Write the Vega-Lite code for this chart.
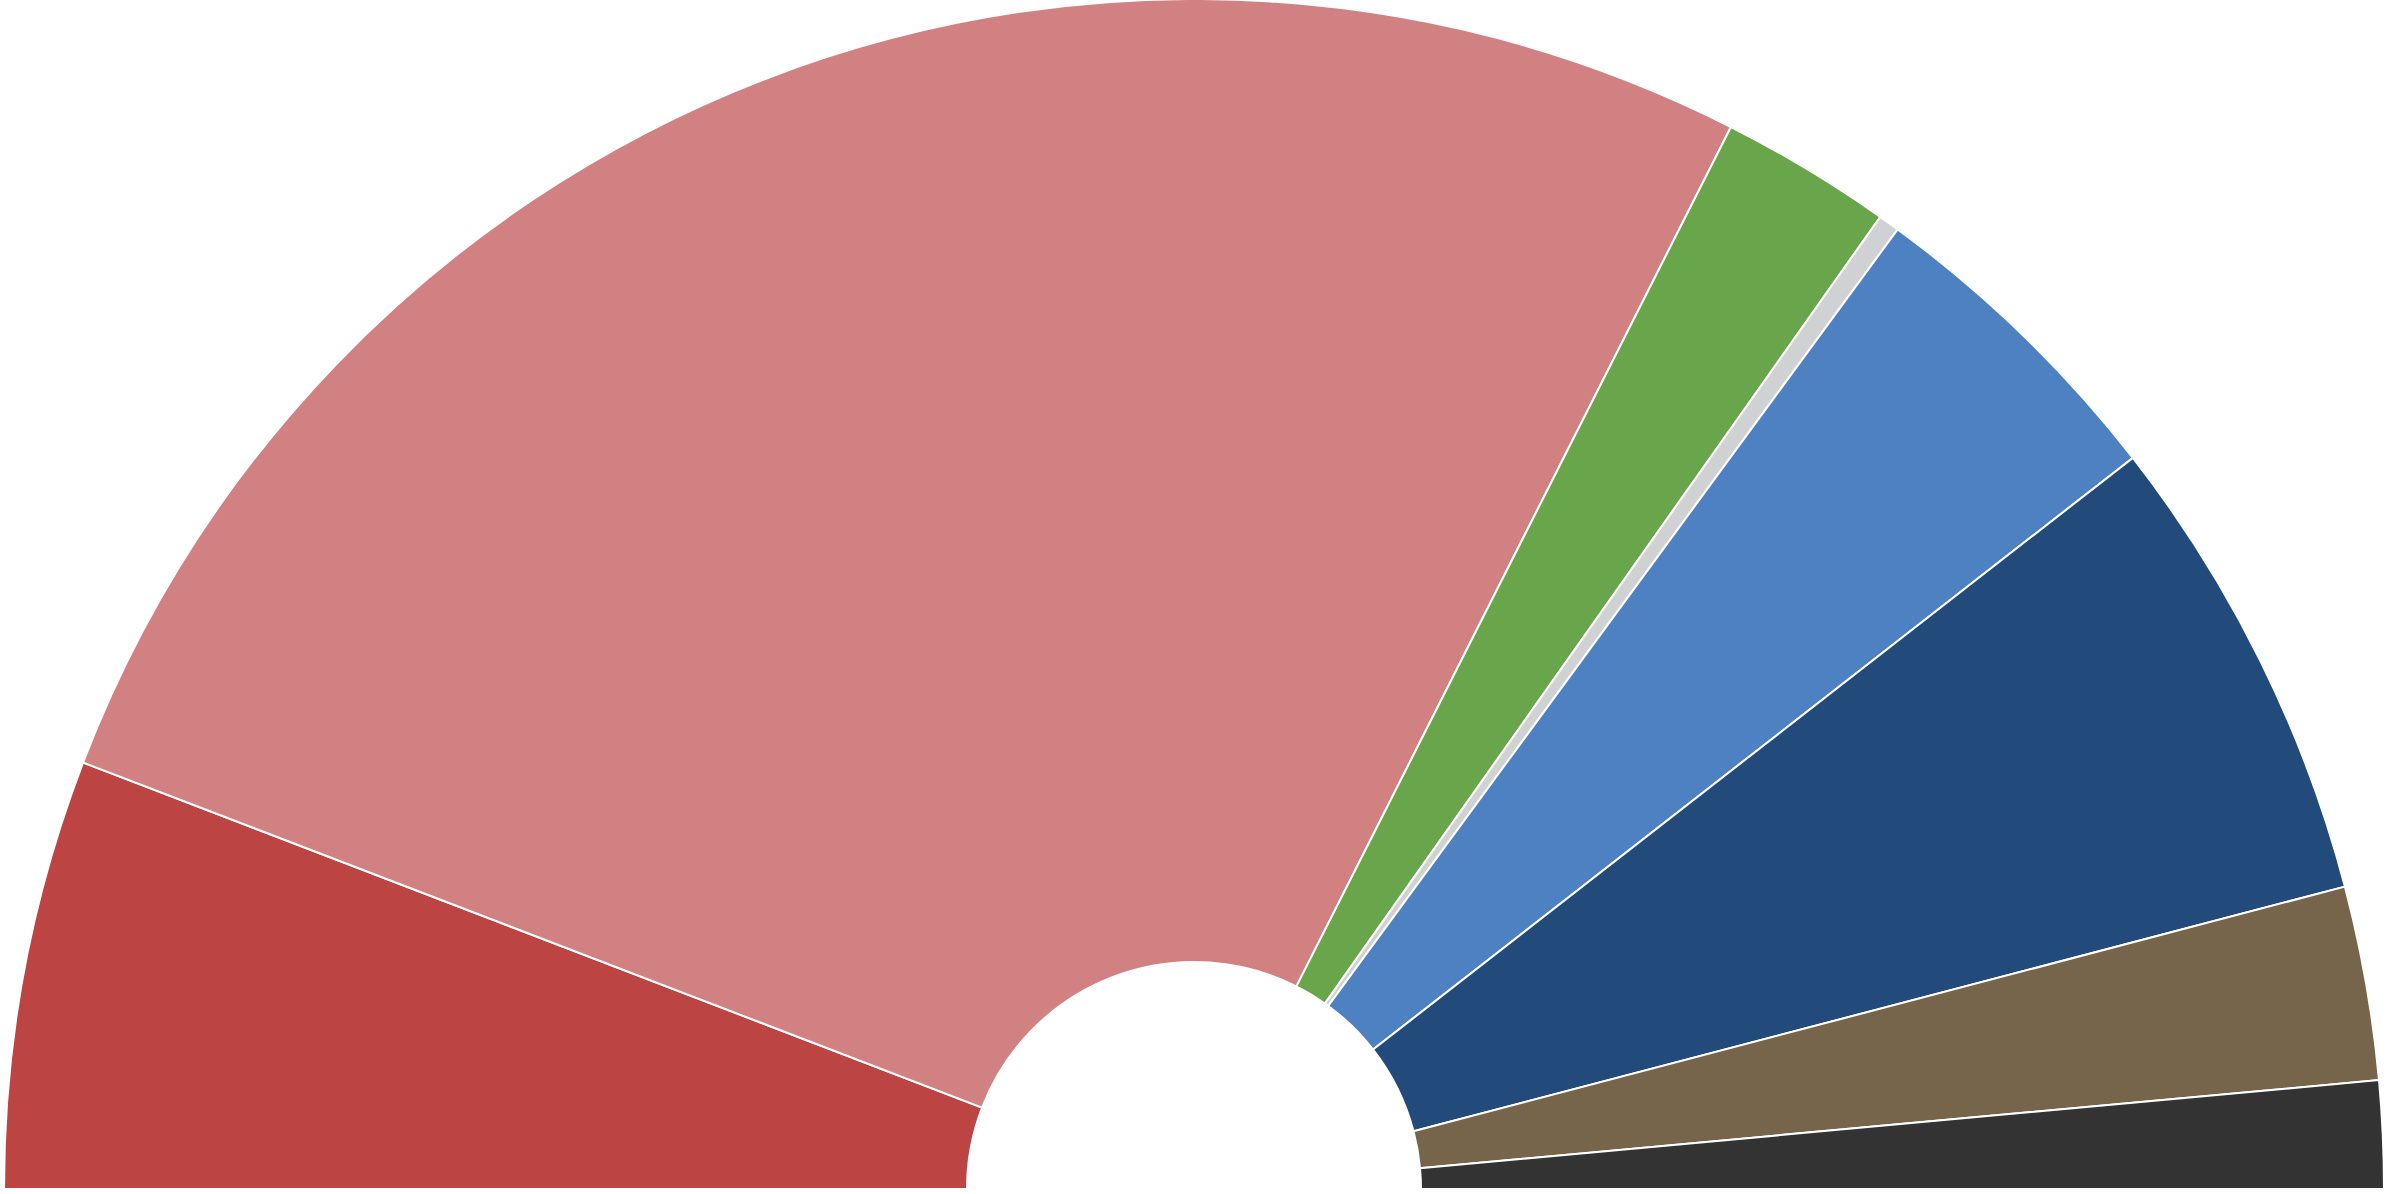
{
  "$schema": "https://vega.github.io/schema/vega-lite/v6.json",
  "width": 2388,
  "height": 1194,
  "autosize": {"type": "fit", "contains": "padding"},
  "padding": 0,
  "background": "white",
  "view": {"stroke": null},
  "data": {
    "values": [
      {"i": 1, "party": "A", "value": 21.0},
      {"i": 2, "party": "B", "value": 95.82},
      {"i": 3, "party": "C", "value": 8.40},
      {"i": 4, "party": "D", "value": 1.03},
      {"i": 5, "party": "E", "value": 15.84},
      {"i": 6, "party": "F", "value": 23.19},
      {"i": 7, "party": "G", "value": 9.47},
      {"i": 8, "party": "H", "value": 5.25}
    ]
  },
  "mark": {
    "type": "arc",
    "outerRadius": 1190,
    "innerRadius": 227,
    "stroke": "white",
    "strokeWidth": 2,
    "x": {"expr": "width/2"},
    "y": {"expr": "height - 2"}
  },
  "encoding": {
    "theta": {
      "field": "value",
      "type": "quantitative",
      "stack": true,
      "scale": {"range": [-1.5708, 1.5708]}
    },
    "order": {"field": "i", "type": "quantitative"},
    "color": {
      "field": "party",
      "type": "nominal",
      "legend": null,
      "scale": {
        "domain": ["A", "B", "C", "D", "E", "F", "G", "H"],
        "range": ["#BC4442", "#D28183", "#69A54A", "#D0D1D3", "#4E81C1", "#224B7B", "#76654B", "#333333"]
      }
    }
  }
}
